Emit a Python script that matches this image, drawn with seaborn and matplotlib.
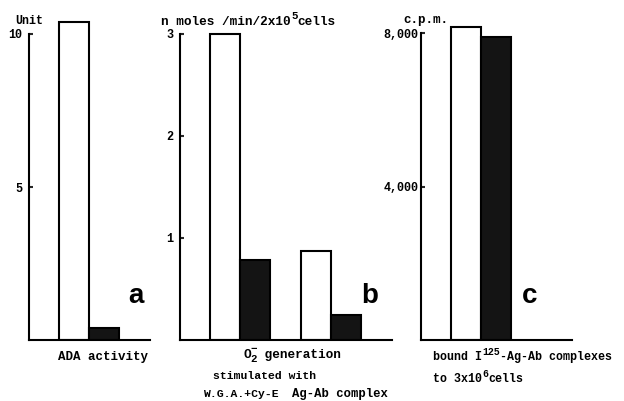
import numpy as np
import pandas as pd
import matplotlib
matplotlib.use("Agg")
import matplotlib.pyplot as plt
import seaborn as sns

# data
conditions = ["open", "filled"]
ada_values = [10.4, 0.4]                      # panel a, Unit
o2_groups = ["W.G.A.+Cy-E", "Ag-Ab complex"]
o2_open = [3.0, 0.87]                         # panel b, n moles/min/2x10^5 cells
o2_filled = [0.78, 0.25]
bound_values = [8150, 7900]                   # panel c, c.p.m.

a_ticks = [5, 10]
a_ticklabels = ["5", "10"]
b_ticks = [1, 2, 3]
b_ticklabels = ["1", "2", "3"]
c_ticks = [4000, 8000]
c_ticklabels = ["4,000", "8,000"]

sns.set_theme(style="white")
plt.rcParams["font.family"] = ["Liberation Mono", "DejaVu Sans Mono"]

W, H = 624, 401
fig = plt.figure(figsize=(W / 100, H / 100), dpi=100)
fig.patch.set_facecolor("white")

palette = {"open": "white", "filled": "#141414"}


def px(x, y):
    return x / W, 1 - y / H


def txt(x, y, s, size=8.0, **kw):
    kw.setdefault("ha", "left")
    kw.setdefault("va", "center")
    return fig.text(*px(x, y), s, fontsize=size, fontweight="bold", color="black", **kw)


def char_w(size):
    # monospace advance in pixels
    return 0.6 * size * 100 / 72


def typed(x, y, parts, size):
    # parts: list of (string, kind) with kind in "n", "sup", "supsub"
    for s, kind in parts:
        if kind == "n":
            txt(x, y, s, size)
            x += char_w(size) * len(s)
        elif kind == "sup":
            txt(x, y - size * 0.62, s, size * 0.85)
            x += char_w(size * 0.85) * len(s)
        elif kind == "supsub":
            sup, sub = s
            txt(x, y - size * 0.6, sup, size * 0.85)
            txt(x, y + size * 0.45, sub, size * 0.85)
            x += char_w(size * 0.85)


def make_ax(left, right):
    ax = fig.add_axes([left / W, (H - 340) / H, (right - left) / W, 325 / H])
    ax.set_facecolor("white")
    return ax


def style_ax(ax, xlim, ylim_top, spine_top, ticks, labels, pad):
    ax.set_xlim(*xlim)
    ax.set_ylim(0, ylim_top)
    for s in ["top", "right"]:
        ax.spines[s].set_visible(False)
    for s in ["left", "bottom"]:
        ax.spines[s].set_linewidth(1.5)
        ax.spines[s].set_color("black")
    ax.spines["left"].set_bounds(0, spine_top)
    ax.set_xticks([])
    ax.set_yticks(ticks)
    ax.set_yticklabels(labels, fontsize=8.5, fontweight="bold", color="black")
    ax.tick_params(axis="y", direction="in", length=3, width=1.5, pad=pad, left=True)
    ax.set_xlabel("")
    ax.set_ylabel("")


bar_kw = dict(width=0.66, edgecolor="black", linewidth=1.5, saturation=1,
              palette=palette, hue_order=conditions, legend=False)

# panel a
ax_a = make_ax(29, 150)
df_a = pd.DataFrame({"group": ["ADA"] * 2, "cond": conditions, "value": ada_values})
sns.barplot(data=df_a, x="group", y="value", hue="cond", ax=ax_a, **bar_kw)
style_ax(ax_a, (-0.66, 0.67), 325 / 30.6, 10, a_ticks, a_ticklabels, 5)

# panel b
ax_b = make_ax(180, 392)
df_b = pd.DataFrame({
    "group": o2_groups * 2,
    "cond": ["open"] * 2 + ["filled"] * 2,
    "value": o2_open + o2_filled,
})
sns.barplot(data=df_b, x="group", y="value", hue="cond", order=o2_groups, ax=ax_b, **bar_kw)
style_ax(ax_b, (-0.66, 1.67), 325 / 102, 3, b_ticks, b_ticklabels, 5)

# panel c
ax_c = make_ax(421, 572)
df_c = pd.DataFrame({"group": ["bound"] * 2, "cond": conditions, "value": bound_values})
sns.barplot(data=df_c, x="group", y="value", hue="cond", ax=ax_c, **bar_kw)
style_ax(ax_c, (-0.66, 1.0), 325 * 8000 / 307, 8000, c_ticks, c_ticklabels, 2)

# axis units
txt(15, 21, "Unit", 8.4)
typed(161, 22, [("n moles /min/2x10", "n"), ("5", "sup"), ("cells", "n")], 9.2)
txt(403, 20, "c.p.m.", 9)

# panel letters
for x, letter in [(136, "a"), (370, "b"), (530, "c")]:
    fig.text(*px(x, 303), letter, ha="center", va="baseline", fontsize=20,
             fontweight="bold", family="Liberation Sans", color="black")

# captions
txt(103, 357, "ADA activity", 9, ha="center")
typed(243, 355, [("O", "n"), (("\u2212", "2"), "supsub"), (" generation", "n")], 9.2)
txt(213, 376, "stimulated with", 8.2)
txt(241, 394, o2_groups[0], 8.2, ha="center")
txt(340, 394, o2_groups[1], 8.8, ha="center")
typed(433, 357, [("bound I", "n"), ("125", "sup"), ("-Ag-Ab complexes", "n")], 8.4)
typed(433, 379, [("to 3x10", "n"), ("6", "sup"), ("cells", "n")], 8.4)

fig.savefig("out.png", dpi=100, facecolor="white")
